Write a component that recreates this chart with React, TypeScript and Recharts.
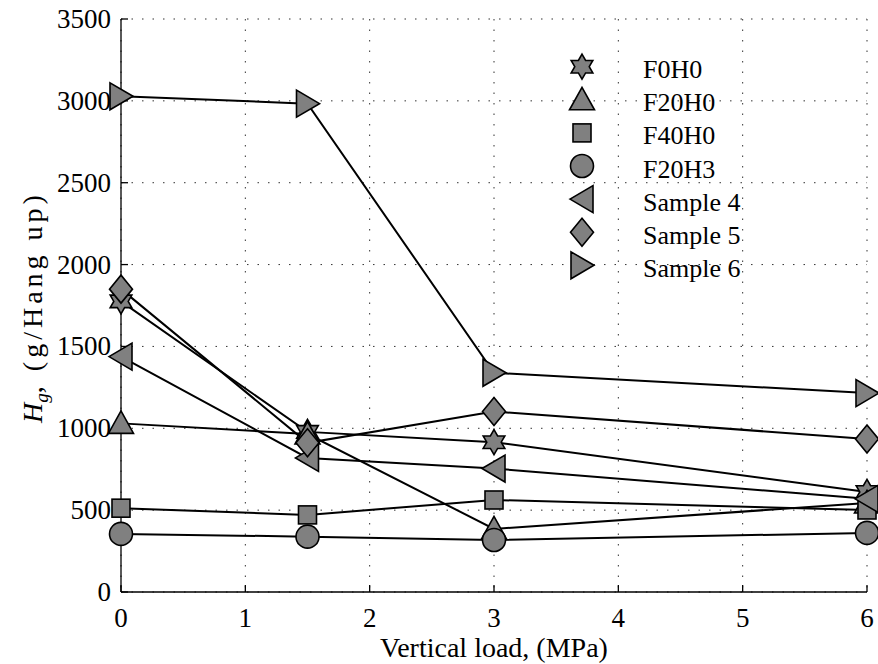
import React from 'react';
import { LineChart, Line, XAxis, YAxis, CartesianGrid, Legend } from 'recharts';

const loads = [0, 1.5, 3, 6];
const F0H0 = [1775, 978, 915, 611];
const F20H0 = [1030, 965, 385, 544];
const F40H0 = [512, 471, 562, 501];
const F20H3 = [355, 338, 318, 361];
const SAMPLE4 = [1438, 819, 754, 569];
const SAMPLE5 = [1850, 911, 1102, 935];
const SAMPLE6 = [3028, 2983, 1339, 1215];

const xTicks = [0, 1, 2, 3, 4, 5, 6];
const yTicks = [0, 500, 1000, 1500, 2000, 2500, 3000, 3500];

const seriesNames = ['F0H0', 'F20H0', 'F40H0', 'F20H3', 'Sample 4', 'Sample 5', 'Sample 6'];
const seriesShapes = ['hexagram', 'triangleUp', 'square', 'circle', 'triangleLeft', 'diamond', 'triangleRight'];
const seriesValues = [F0H0, F20H0, F40H0, F20H3, SAMPLE4, SAMPLE5, SAMPLE6];

const data = loads.map((x, i) => {
  const row: any = { x };
  seriesNames.forEach((n, k) => {
    row[n] = seriesValues[k][i];
  });
  return row;
});

const FONT = '"Liberation Serif", "Times New Roman", serif';
const FILL = '#808080';

function Marker({ shape, cx, cy }: { shape: string; cx: number; cy: number }) {
  const common = { fill: FILL, stroke: '#000', strokeWidth: 1.6, strokeLinejoin: 'miter' as const };
  const poly = (pts: number[][]) => (
    <polygon {...common} points={pts.map(([a, b]) => `${cx + a},${cy + b}`).join(' ')} />
  );
  switch (shape) {
    case 'hexagram': {
      const R = 12.5;
      const r = R / Math.sqrt(3);
      const pts: number[][] = [];
      for (let i = 0; i < 12; i++) {
        const ang = -Math.PI / 2 + (i * Math.PI) / 6;
        const rad = i % 2 === 0 ? R : r;
        pts.push([rad * Math.cos(ang), rad * Math.sin(ang)]);
      }
      return poly(pts);
    }
    case 'triangleUp':
      return poly([[0, -12.5], [-12.5, 10], [12.5, 10]]);
    case 'triangleLeft':
      return poly([[-12, 0], [11, -13.5], [11, 13.5]]);
    case 'triangleRight':
      return poly([[12, 0], [-11, -13.5], [-11, 13.5]]);
    case 'diamond':
      return poly([[0, -14], [11.5, 0], [0, 14], [-11.5, 0]]);
    case 'square':
      return <rect {...common} x={cx - 9} y={cy - 9} width={18} height={18} />;
    case 'circle':
    default:
      return <circle {...common} cx={cx} cy={cy} r={11.5} />;
  }
}

const renderLegend = () => (
  <svg width={220} height={260} style={{ display: 'block' }}>
    {seriesNames.map((n, i) => {
      const cy = 18.7 + i * 33.1;
      return (
        <g key={n}>
          <Marker shape={seriesShapes[i]} cx={14} cy={cy} />
          <text x={75} y={cy + 11.5} fontFamily={FONT} fontSize={26} fill="#000">
            {n}
          </text>
        </g>
      );
    })}
  </svg>
);

const YLabel = () => (
  <text
    x={42}
    y={307}
    transform="rotate(-90, 42, 307)"
    textAnchor="middle"
    fontFamily={FONT}
    fontSize={28}
    fill="#000"
  >
    <tspan fontStyle="italic">H</tspan>
    <tspan fontStyle="italic" fontSize={19} dy={6}>g</tspan>
    <tspan dy={-6} letterSpacing={4}>, (g/Hang up)</tspan>
  </text>
);

const XLabel = (props: any) => {
  const vb = props.viewBox || { x: 121, width: 746 };
  return (
    <text x={vb.x + vb.width / 2} y={657} textAnchor="middle" fontFamily={FONT} fontSize={28} fill="#000">
      Vertical load, (MPa)
    </text>
  );
};

const XTick = (props: any) => {
  const { x, y, payload } = props;
  return (
    <text x={x} y={y + 32} textAnchor="middle" fontFamily={FONT} fontSize={27} fill="#000">
      {payload.value}
    </text>
  );
};

const YTick = (props: any) => {
  const { x, y, payload } = props;
  return (
    <text x={x} y={y + 9} textAnchor="end" fontFamily={FONT} fontSize={27} fill="#000">
      {payload.value}
    </text>
  );
};

export default function App() {
  return (
    <div style={{ position: 'absolute', left: 0, top: 0 }}>
      <LineChart width={878} height={664} data={data} margin={{ top: 19, right: 11, bottom: 0, left: 0 }}>
        <CartesianGrid stroke="#333" strokeDasharray="1.5 9" strokeWidth={1} />
        <XAxis
          dataKey="x"
          type="number"
          domain={[0, 6]}
          ticks={xTicks}
          height={72}
          tickSize={-7}
          tickMargin={10}
          tick={XTick}
          axisLine={{ stroke: '#000', strokeWidth: 1.3 }}
          tickLine={{ stroke: '#000', strokeWidth: 1.3 }}
          label={{ content: XLabel }}
        />
        <XAxis
          xAxisId="top"
          dataKey="x"
          type="number"
          orientation="top"
          domain={[0, 6]}
          ticks={xTicks}
          height={0}
          tickSize={-7}
          tick={false}
          axisLine={{ stroke: '#000', strokeWidth: 1.3 }}
          tickLine={{ stroke: '#000', strokeWidth: 1.3 }}
        />
        <YAxis
          type="number"
          domain={[0, 3500]}
          ticks={yTicks}
          width={121}
          tickSize={-7}
          tickMargin={17}
          tick={YTick}
          axisLine={{ stroke: '#000', strokeWidth: 1.3 }}
          tickLine={{ stroke: '#000', strokeWidth: 1.3 }}
          label={{ content: YLabel }}
        />
        <YAxis
          yAxisId="right"
          type="number"
          orientation="right"
          domain={[0, 3500]}
          ticks={yTicks}
          width={0}
          tickSize={-7}
          tick={false}
          axisLine={{ stroke: '#000', strokeWidth: 1.3 }}
          tickLine={{ stroke: '#000', strokeWidth: 1.3 }}
        />
        <Legend
          content={renderLegend}
          layout="vertical"
          align="center"
          verticalAlign="middle"
          wrapperStyle={{ position: 'absolute', left: 568, top: 48, width: 220, height: 260 }}
        />
        {seriesNames.map((n, k) => (
          <Line
            key={n}
            dataKey={n}
            type="linear"
            stroke="#000"
            strokeWidth={2}
            isAnimationActive={false}
            dot={(p: any) => <Marker key={`${n}-${p.index}`} shape={seriesShapes[k]} cx={p.cx} cy={p.cy} />}
            activeDot={false}
            legendType="none"
          />
        ))}
      </LineChart>
    </div>
  );
}
